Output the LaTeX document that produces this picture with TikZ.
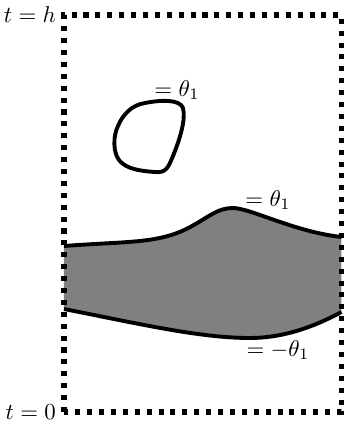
\documentclass[tikz,border=0pt]{standalone}
\usepackage{amssymb}
\usepackage{amsmath}
\usetikzlibrary{positioning}

\begin{document}
\begin{tikzpicture}[x=4.37pt, y=4.37pt,
    boundary/.style={line width=2.2pt, dash pattern=on 2.2pt off 3pt},
    level/.style={line width=1.7pt, line join=round}]
  \useasboundingbox (0,0) rectangle (34.4,42.4);

  % Corners of the time slab
  \coordinate (BL) at (6.4,1.2);
  \coordinate (TR) at (34.15,40.9);
  \coordinate (TL) at (6.4,40.9);

  % Shaded region between the two level curves
  \fill[gray] (6.4,17.8) .. controls (13,18.3) and (16,18) .. (19.2,19.8)
    .. controls (21,20.8) and (21.8,21.6) .. (23.3,21.6)
    .. controls (25,21.6) and (29.5,19.2) .. (34.15,18.7)
    -- (34.15,11.2) .. controls (31,9.5) and (28,8.6) .. (25,8.6)
    .. controls (20,8.6) and (14,10) .. (6.4,11.5) -- cycle;

  % Upper level curve
  \draw[level] (6.4,17.8) .. controls (13,18.3) and (16,18) .. (19.2,19.8)
    .. controls (21,20.8) and (21.8,21.6) .. (23.3,21.6)
    .. controls (25,21.6) and (29.5,19.2) .. (34.15,18.7);
  \node (upper) at (26.8,22.4) {$=\theta_1$};

  % Lower level curve
  \draw[level] (34.15,11.2) .. controls (31,9.5) and (28,8.6) .. (25,8.6)
    .. controls (20,8.6) and (14,10) .. (6.4,11.5);
  \node (lower) at (27.8,7.4) {$=-\theta_1$};

  % Closed level curve
  \draw[level] (14.5,32.1) .. controls (16,32.4) and (18.0,32.5) .. (18.3,31.6)
    .. controls (18.6,30.5) and (18.0,28.5) .. (17.3,26.8)
    .. controls (16.8,25.6) and (16.6,25.1) .. (15.5,25.2)
    .. controls (14,25.3) and (12.6,25.5) .. (11.9,26.4)
    .. controls (11.3,27.2) and (11.3,28.8) .. (11.8,29.8)
    .. controls (12.3,31) and (13.2,31.9) .. (14.5,32.1) -- cycle;
  \node (loop) at (17.7,33.4) {$=\theta_1$};

  % Dotted boundary and time labels
  \draw[boundary] (BL) rectangle (TR);
  \node[left] (top) at (TL) {$t=h$};
  \node[left] (bottom) at (BL) {$t=0$};

\end{tikzpicture}
\end{document}
